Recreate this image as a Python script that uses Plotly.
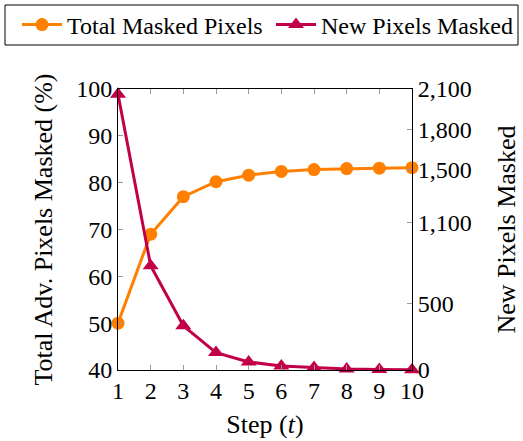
import plotly.graph_objects as go

steps = [1, 2, 3, 4, 5, 6, 7, 8, 9, 10]
total_masked = [50.0, 69.0, 77.0, 80.2, 81.6, 82.4, 82.8, 83.0, 83.1, 83.2]
new_masked = [2060, 780, 330, 130, 60, 30, 18, 8, 4, 2]

left_ticks = [40, 50, 60, 70, 80, 90, 100]
right_ticks = [0, 500, 1100, 1500, 1800, 2100]

ORANGE = "#FF8000"
CRIMSON = "#C2004A"
FONT = "Liberation Serif"

W, H = 523, 441
ML, MR, MT, MB = 118, 111, 89, 71
PW, PH = W - ML - MR, H - MT - MB

fig = go.Figure()
fig.add_trace(go.Scatter(
    x=steps, y=total_masked, name="Total Masked Pixels", yaxis="y", legend="legend",
    mode="lines+markers", line=dict(color=ORANGE, width=3),
    marker=dict(symbol="circle", size=13, color=ORANGE), cliponaxis=False))
fig.add_trace(go.Scatter(
    x=steps, y=new_masked, name="New Pixels Masked", yaxis="y2", legend="legend2",
    mode="lines+markers", line=dict(color=CRIMSON, width=3),
    marker=dict(symbol="triangle-up", size=14, color=CRIMSON), cliponaxis=False))

axis_common = dict(showgrid=False, zeroline=False, showline=True, linecolor="black",
                   linewidth=1, ticks="inside", ticklen=5, tickcolor="#999999",
                   tickwidth=1, automargin=False,
                   tickfont=dict(family=FONT, size=24, color="black"))

legend_common = dict(orientation="h", xref="container", yref="container",
                     xanchor="left", yanchor="middle", y=1 - 25 / H,
                     borderwidth=0, bgcolor="rgba(0,0,0,0)",
                     font=dict(family=FONT, size=24), itemwidth=40)

fig.update_layout(
    width=W, height=H,
    margin=dict(l=ML, r=MR, t=MT, b=MB, autoexpand=False),
    paper_bgcolor="white", plot_bgcolor="white",
    font=dict(family=FONT, size=24, color="black"),
    xaxis=dict(range=[1, 10], tickvals=steps, mirror="ticks", ticklabelstandoff=-1,
               title=dict(text="Step (<i>t</i>)", font=dict(family=FONT, size=26), standoff=12),
               **axis_common),
    yaxis=dict(range=[40, 100], tickvals=left_ticks,
               title=dict(text="Total Adv. Pixels Masked (%)", font=dict(family=FONT, size=26), standoff=16),
               **axis_common),
    yaxis2=dict(range=[0, 2100], tickvals=right_ticks, tickformat=",", overlaying="y", side="right",
                title=dict(text="New Pixels Masked", font=dict(family=FONT, size=26), standoff=26),
                **axis_common),
    legend=dict(x=17 / W, **legend_common),
    legend2=dict(x=271 / W, **legend_common),
    showlegend=True,
    shapes=[dict(type="rect", xref="paper", yref="paper",
                 x0=(5 - ML) / PW, x1=(518 - ML) / PW,
                 y0=(H - MB - 45) / PH, y1=(H - MB - 5) / PH,
                 line=dict(color="black", width=1), fillcolor="rgba(0,0,0,0)", layer="above")],
)

fig.write_html("out.html", post_script="document.body.style.margin='0';",
               config={"displayModeBar": False})
